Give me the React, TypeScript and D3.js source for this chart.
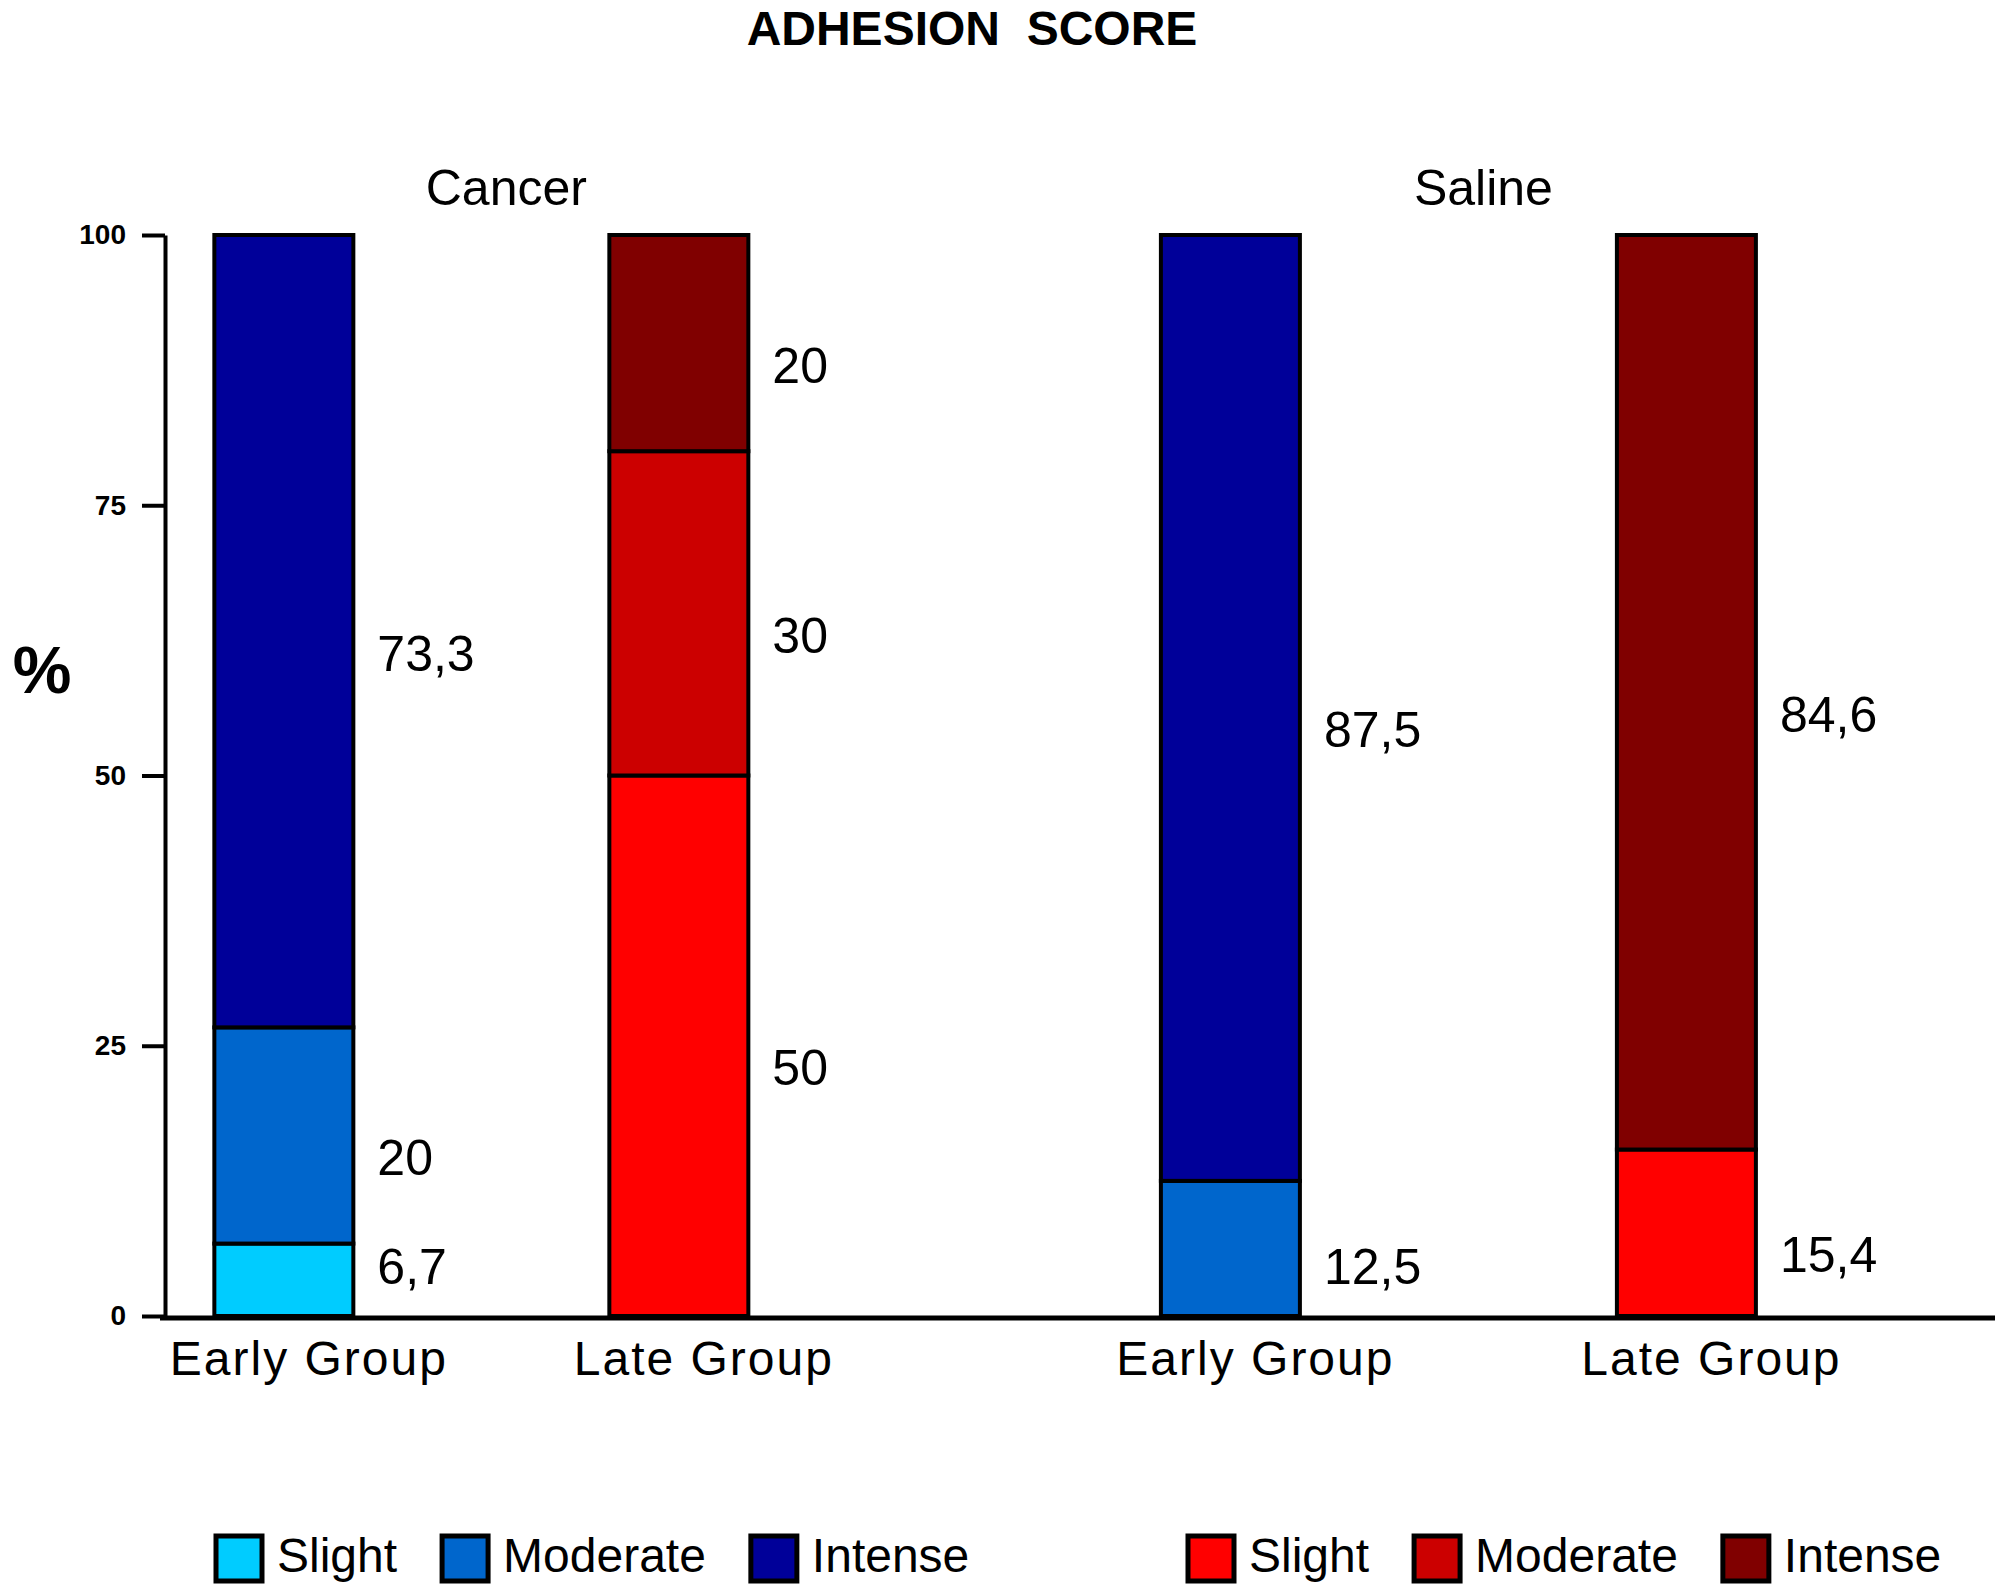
import React, { useEffect, useRef } from 'react';
import * as d3 from 'd3';

// groups / bars, in drawing order
const groups = ['Cancer', 'Saline'];
const subgroups = ['Early Group', 'Late Group'];
const severities = ['Slight', 'Moderate', 'Intense'];

// % per bar: Cancer Early, Cancer Late, Saline Early, Saline Late
const slightValues = [6.7, 50, 0, 15.4];
const moderateValues = [20, 30, 12.5, 0];
const intenseValues = [73.3, 20, 87.5, 84.6];

const yTicks = [0, 25, 50, 75, 100];

const earlyColors = ['#00CCFF', '#0066CC', '#000099'];
const lateColors = ['#FF0000', '#CC0000', '#800000'];

const FONT = "'Liberation Sans', Arial, sans-serif";

const App: React.FC = () => {
  const svgRef = useRef<SVGSVGElement>(null);
  const width = 2000;
  const height = 1590;

  useEffect(() => {
    if (!svgRef.current) return;
    const svg = d3.select(svgRef.current);
    svg.selectAll('*').remove();

    const y = d3.scaleLinear().domain([0, 100]).range([1316, 235]);

    const x0 = d3.scaleBand()
      .domain(groups)
      .range([164, 1995])
      .paddingInner(0.5)
      .paddingOuter(0.187)
      .align(0.2);

    // the two bars sit a bit further apart in the Saline group
    const groupSpread: Record<string, number> = { Cancer: 395, Saline: 456 };
    const barWidth = 139;
    const x1 = (g: string) => d3.scalePoint()
      .domain(subgroups)
      .range([-groupSpread[g] / 2, groupSpread[g] / 2]);

    const rows = groups.flatMap((g, gi) =>
      subgroups.map((s, si) => {
        const i = gi * subgroups.length + si;
        return {
          group: g,
          sub: s,
          Slight: slightValues[i],
          Moderate: moderateValues[i],
          Intense: intenseValues[i]
        };
      })
    );

    const stacked = d3.stack<any>().keys(severities)(rows);
    const barCenter = (d: any) => (x0(d.group) || 0) + x0.bandwidth() / 2 + (x1(d.group)(d.sub) || 0);
    const barX = (d: any) => barCenter(d) - barWidth / 2;
    const palette = (sub: string) => (sub === 'Early Group' ? earlyColors : lateColors);

    // title
    svg.append('text')
      .attr('x', 972)
      .attr('y', 45)
      .attr('text-anchor', 'middle')
      .attr('font-family', FONT)
      .attr('font-weight', 'bold')
      .attr('font-size', 48)
      .attr('xml:space', 'preserve')
      .text('ADHESION  SCORE');

    // group titles
    groups.forEach(g => {
      svg.append('text')
        .attr('x', (x0(g) || 0) + x0.bandwidth() / 2 + 25)
        .attr('y', 205)
        .attr('text-anchor', 'middle')
        .attr('font-family', FONT)
        .attr('font-size', 50)
        .text(g);
    });

    // bars
    stacked.forEach((layer, li) => {
      layer.forEach((seg, ri) => {
        const d = rows[ri];
        const v = seg[1] - seg[0];
        if (v <= 0) return;
        svg.append('rect')
          .attr('x', barX(d))
          .attr('y', y(seg[1]))
          .attr('width', barWidth)
          .attr('height', y(seg[0]) - y(seg[1]))
          .attr('fill', palette(d.sub)[li])
          .attr('stroke', '#000')
          .attr('stroke-width', 4);

        // value label beside the segment, kept clear of the baseline
        const ly = Math.min(y((seg[0] + seg[1]) / 2) + 22, y(0) - 50);
        svg.append('text')
          .attr('x', barX(d) + barWidth + 24)
          .attr('y', ly)
          .attr('dy', '0.35em')
          .attr('font-family', FONT)
          .attr('font-size', 50)
          .text(String(+v.toFixed(1)).replace('.', ','));
      });
    });

    // y axis
    const yAxis = svg.append('g')
      .attr('transform', 'translate(165,0)')
      .call(d3.axisLeft(y).tickValues(yTicks).tickSize(23).tickSizeOuter(0).tickPadding(16));
    yAxis.select('.domain').attr('stroke', '#000').attr('stroke-width', 4);
    yAxis.selectAll('.tick line').attr('stroke', '#000').attr('stroke-width', 4);
    yAxis.selectAll('.tick text')
      .attr('font-family', FONT)
      .attr('font-weight', 'bold')
      .attr('font-size', 28)
      .attr('fill', '#000');

    // x baseline
    svg.append('line')
      .attr('x1', 160)
      .attr('x2', 1995)
      .attr('y1', y(0) + 2)
      .attr('y2', y(0) + 2)
      .attr('stroke', '#000')
      .attr('stroke-width', 5);

    // category labels
    rows.forEach(d => {
      svg.append('text')
        .attr('x', barCenter(d) + 25)
        .attr('y', 1375)
        .attr('text-anchor', 'middle')
        .attr('font-family', FONT)
        .attr('font-size', 48)
        .attr('letter-spacing', 2)
        .text(d.sub);
    });

    // y label
    svg.append('text')
      .attr('x', 42)
      .attr('y', 693)
      .attr('text-anchor', 'middle')
      .attr('font-family', FONT)
      .attr('font-weight', 'bold')
      .attr('font-size', 66)
      .text('%');

    // legends
    const drawLegend = (startX: number, colors: string[]) => {
      let cx = startX;
      severities.forEach((s, i) => {
        svg.append('rect')
          .attr('x', cx)
          .attr('y', 1536)
          .attr('width', 46)
          .attr('height', 45)
          .attr('fill', colors[i])
          .attr('stroke', '#000')
          .attr('stroke-width', 5);
        const t = svg.append('text')
          .attr('x', cx + 46 + 15)
          .attr('y', 1572)
          .attr('font-family', FONT)
          .attr('font-size', 48)
          .text(s);
        const w = (t.node() as SVGTextElement).getComputedTextLength();
        cx += 46 + 15 + w + 45;
      });
    };
    drawLegend(216, earlyColors);
    drawLegend(1188, lateColors);
  }, []);

  return (
    <svg
      ref={svgRef}
      width={width}
      height={height}
      style={{ position: 'absolute', left: 0, top: 0, background: '#fff' }}
    ></svg>
  );
};

export default App;
